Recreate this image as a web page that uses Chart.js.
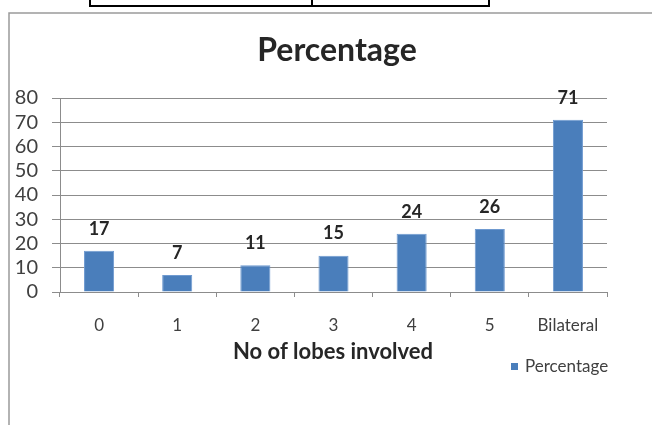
<!DOCTYPE html>
<html>
<head>
<meta charset="utf-8">
<script src="https://cdn.jsdelivr.net/npm/chart.js@4/dist/chart.umd.min.js"></script>
<style>
  html, body { margin: 0; padding: 0; background: #fff; }
  canvas { display: block; }
</style>
</head>
<body>
<canvas id="c" width="652" height="425"></canvas>
<script>
// Lobe involvement categories and their percentages
const categories = ['0', '1', '2', '3', '4', '5', 'Bilateral'];
const percentages = [17, 7, 11, 15, 24, 26, 71];
const yTicks = [0, 10, 20, 30, 40, 50, 60, 70, 80];

const seriesName = 'Percentage';
const chartTitle = 'Percentage';
const xAxisTitle = 'No of lobes involved';

const BAR_COLOR = '#4a7ebb';
const GRID_COLOR = '#8c8c8c';
const FONT = 'Lato, "Liberation Sans", sans-serif';

// Frame of the page, the heading, axis title, legend and value labels
const decorations = {
  id: 'decorations',
  beforeDraw(chart) {
    const ctx = chart.ctx;
    ctx.save();
    // table edge above the chart
    ctx.strokeStyle = '#000';
    ctx.lineWidth = 2;
    ctx.beginPath();
    ctx.moveTo(90, 0); ctx.lineTo(90, 6);
    ctx.moveTo(312, 0); ctx.lineTo(312, 6);
    ctx.moveTo(489, 0); ctx.lineTo(489, 6);
    ctx.moveTo(89, 6); ctx.lineTo(490, 6);
    ctx.stroke();
    // chart frame
    ctx.strokeStyle = '#9a9a9a';
    ctx.lineWidth = 1.5;
    ctx.beginPath();
    ctx.moveTo(9, 425); ctx.lineTo(9, 13); ctx.lineTo(652, 13);
    ctx.stroke();
    ctx.restore();
  },
  afterDraw(chart) {
    const ctx = chart.ctx;
    ctx.save();
    ctx.fillStyle = '#262626';
    ctx.textAlign = 'center';
    ctx.textBaseline = 'middle';
    ctx.font = 'bold 32px ' + FONT;
    ctx.fillText(chartTitle, 337, 51);
    ctx.font = 'bold 22px ' + FONT;
    ctx.fillText(xAxisTitle, 333, 352);

    // value labels above bars
    ctx.font = 'bold 18px ' + FONT;
    const meta = chart.getDatasetMeta(0);
    meta.data.forEach((bar, i) => {
      ctx.fillText(String(chart.data.datasets[0].data[i]), bar.x, bar.y - 22);
    });

    // legend
    ctx.fillStyle = BAR_COLOR;
    ctx.fillRect(511, 363, 7, 7);
    ctx.fillStyle = '#404040';
    ctx.textAlign = 'left';
    ctx.font = '17px ' + FONT;
    ctx.fillText(chart.data.datasets[0].label, 525, 367);
    ctx.restore();
  }
};

new Chart(document.getElementById('c'), {
  type: 'bar',
  data: {
    labels: categories,
    datasets: [{
      label: seriesName,
      data: percentages,
      backgroundColor: BAR_COLOR,
      borderColor: '#6f9ad0',
      borderWidth: 1,
      categoryPercentage: 1,
      barPercentage: 0.385
    }]
  },
  options: {
    responsive: false,
    animation: false,
    devicePixelRatio: 1,
    layout: { padding: { top: 98, left: 0, right: 45, bottom: 0 } },
    plugins: {
      legend: { display: false },
      title: { display: false },
      tooltip: { enabled: false }
    },
    scales: {
      x: {
        afterFit(s) { s.height = 133; },
        grid: {
          offset: true,
          drawOnChartArea: false,
          drawTicks: true,
          tickLength: 5,
          color: GRID_COLOR
        },
        border: { display: true, color: GRID_COLOR, width: 1 },
        ticks: {
          padding: 18,
          autoSkip: false,
          maxRotation: 0,
          color: '#404040',
          font: { family: FONT, size: 17 }
        }
      },
      y: {
        min: 0,
        max: 80,
        afterFit(s) { s.width = 60; },
        afterBuildTicks(s) { s.ticks = yTicks.map(v => ({ value: v })); },
        grid: {
          color: GRID_COLOR,
          lineWidth: 1,
          drawTicks: true,
          tickLength: 8
        },
        border: { display: true, color: GRID_COLOR, width: 1 },
        ticks: {
          padding: 14,
          autoSkip: false,
          color: '#404040',
          font: { family: FONT, size: 20 }
        }
      }
    }
  },
  plugins: [decorations]
});
</script>
</body>
</html>
